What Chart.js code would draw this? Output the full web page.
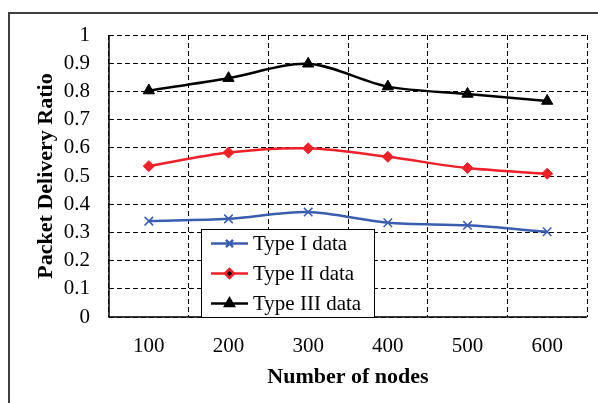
<!DOCTYPE html>
<html lang="en">
<head>
  <meta charset="UTF-8" />
  <title>Packet Delivery Ratio</title>
  <script src="https://cdn.jsdelivr.net/npm/chart.js"></script>
  <style>
    html, body {
      margin: 0;
      padding: 0;
      background: #fff;
      overflow: hidden;
    }

    #wrap {
      position: relative;
      width: 598px;
      height: 403px;
    }
  </style>
</head>
<body>
  <div id="wrap">
    <canvas id="pdrChart" width="598" height="403"></canvas>
  </div>

  <script>
    // data
    const nodes = ['100', '200', '300', '400', '500', '600'];
    const typeOne = [0.340, 0.348, 0.372, 0.334, 0.325, 0.302];
    const typeTwo = [0.535, 0.583, 0.598, 0.568, 0.528, 0.508];
    const typeThree = [0.803, 0.847, 0.898, 0.817, 0.791, 0.766];
    const yTicks = [0, 0.1, 0.2, 0.3, 0.4, 0.5, 0.6, 0.7, 0.8, 0.9, 1];

    const serif = "'Liberation Serif', 'Times New Roman', serif";

    // grey frame round the whole figure
    const framePlugin = {
      id: 'frame',
      beforeDraw(chart) {
        const c = chart.ctx;
        c.save();
        c.strokeStyle = '#404040';
        c.lineWidth = 2;
        c.strokeRect(9, 13, 800, 600);
        c.restore();
      }
    };

    // solid left and bottom axis lines over the dashed grid
    const axisLines = {
      id: 'axisLines',
      beforeDatasetsDraw(chart) {
        const c = chart.ctx;
        const a = chart.chartArea;
        c.save();
        c.strokeStyle = '#000';
        c.lineWidth = 1.5;
        c.setLineDash([]);
        c.beginPath();
        c.moveTo(a.left, a.top);
        c.lineTo(a.left, a.bottom);
        c.lineTo(a.right, a.bottom);
        c.stroke();
        c.restore();
      }
    };

    // legend box sitting inside the plot, like the Excel one
    const boxLegend = {
      id: 'boxLegend',
      afterDraw(chart) {
        const c = chart.ctx;
        const area = chart.chartArea;
        const x0 = 201, y0 = 229, w = 173, h = area.bottom - y0;
        c.save();
        c.fillStyle = '#fff';
        c.fillRect(x0, y0, w, h);
        c.strokeStyle = '#000';
        c.lineWidth = 1;
        c.setLineDash([]);
        c.strokeRect(x0 + 0.5, y0 + 0.5, w, h);

        chart.data.datasets.forEach((ds, i) => {
          const y = y0 + 14.5 + i * 30;
          c.strokeStyle = ds.borderColor;
          c.lineWidth = 2.5;
          c.beginPath();
          c.moveTo(211, y);
          c.lineTo(248, y);
          c.stroke();
          Chart.helpers.drawPoint(c, {
            pointStyle: ds.pointStyle,
            radius: ds.legendRadius,
            borderWidth: ds.pointStyle === 'crossRot' ? 1.5 : 1
          }, 229.5, y);
          c.fillStyle = '#000';
          c.font = '21px ' + serif;
          c.textBaseline = 'middle';
          c.textAlign = 'left';
          c.fillText(ds.label, 253, y + 1);
        });
        c.restore();
      }
    };

    function line(label, data, color, style, radius, legendRadius) {
      return {
        label: label,
        data: data,
        borderColor: color,
        backgroundColor: color,
        pointBackgroundColor: color,
        pointBorderColor: color,
        pointStyle: style,
        pointRadius: radius,
        pointBorderWidth: style === 'crossRot' ? 1.5 : 1,
        legendRadius: legendRadius,
        borderWidth: 2.5,
        tension: 0.3,
        fill: false
      };
    }

    const ctx = document.getElementById('pdrChart').getContext('2d');
    new Chart(ctx, {
      type: 'line',
      data: {
        labels: nodes,
        datasets: [
          line('Type I data', typeOne, '#3A5DAE', 'crossRot', 6, 5),
          line('Type II data', typeTwo, '#EE2028', 'rectRot', 5.5, 4.5),
          line('Type III data', typeThree, '#000000', 'triangle', 6.5, 5)
        ]
      },
      options: {
        responsive: false,
        animation: false,
        layout: { padding: { top: 35, right: 11, left: 0, bottom: 0 } },
        plugins: {
          legend: { display: false },
          tooltip: { enabled: false }
        },
        scales: {
          x: {
            offset: true,
            afterFit(scale) { scale.height = 86; },
            grid: {
              offset: true,
              color: '#000',
              lineWidth: 1,
              drawTicks: false
            },
            border: { display: false, dash: [5, 3] },
            ticks: {
              color: '#000',
              padding: 17,
              font: { family: serif, size: 21 }
            },
            title: {
              display: true,
              text: 'Number of nodes',
              color: '#000',
              font: { family: serif, size: 22, weight: 'bold' },
              padding: { top: 0, bottom: 12 }
            }
          },
          y: {
            min: 0,
            max: 1,
            afterFit(scale) { scale.width = 109; },
            afterBuildTicks(scale) {
              scale.ticks = yTicks.map(v => ({ value: v }));
            },
            grid: {
              color: '#000',
              lineWidth: 1,
              drawTicks: false
            },
            border: { display: false, dash: [5, 3] },
            ticks: {
              color: '#000',
              padding: 19,
              font: { family: serif, size: 21 },
              callback: v => String(Math.round(v * 10) / 10)
            },
            title: {
              display: true,
              text: 'Packet Delivery Ratio',
              color: '#000',
              font: { family: serif, size: 22, weight: 'bold' },
              padding: { top: 33, bottom: 0 }
            }
          }
        }
      },
      plugins: [framePlugin, axisLines, boxLegend]
    });
  </script>
</body>
</html>
